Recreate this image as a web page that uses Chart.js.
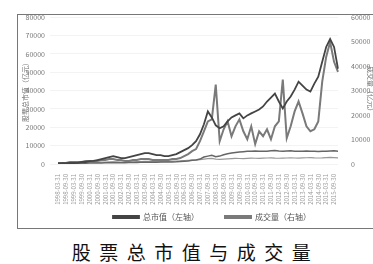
<!DOCTYPE html>
<html><head><meta charset="utf-8">
<script src="https://cdn.jsdelivr.net/npm/chart.js@4/dist/chart.umd.min.js"></script>
<style>
html,body{margin:0;padding:0;background:#fff;width:373px;height:264px;overflow:hidden;font-family:"Noto Sans CJK SC",sans-serif;}
#box{position:absolute;left:17px;top:14px;width:380px;height:213px;border-top:1px solid #777;border-left:1px solid #777;border-bottom:1px solid #777;overflow:hidden;}
#wrap{position:absolute;left:0;top:-7px;width:358px;height:223px;}
#title{position:absolute;left:4px;top:238px;width:383px;text-align:center;font-size:19px;letter-spacing:8.5px;color:#111;}
</style></head><body>
<div id="box"><div id="wrap"><canvas id="c"></canvas></div></div>
<div id="title">股票总市值与成交量</div>
<script>
const years = ["1998","1999","2000","2001","2002","2003","2004","2005","2006","2007","2008","2009","2010","2011","2012","2013","2014","2015"];
const quarterEnds = ["-03-31","-06-30","-09-30","-12-31"];
const categories = [];
years.forEach(y => quarterEnds.forEach(q => categories.push(y + q)));

const totalMarketValue = [300,400,500,540,540,600,1081,1100,1621,1650,2162,2703,3243,3784,4324,3784,3243,3243,3784,4324,4865,5405,5946,5946,5405,4865,4865,4324,4324,4865,5405,6486,7567,8648,10270,12432,16216,21621,28648,25405,21081,19459,20540,23243,25405,26486,27567,24865,26486,27567,28648,29729,31351,34054,36216,38378,34054,30270,34054,36756,40540,44864,42702,40540,39459,43783,47567,55675,63783,68107,63783,51891];
const floatMarketValue = [300,300,350,350,400,400,450,450,500,500,550,600,650,700,750,700,700,700,750,800,850,900,950,1000,1000,1000,1050,1050,1100,1150,1200,1300,1500,1700,2000,2200,2700,3800,4300,4800,4000,4300,5000,5600,6000,6300,6500,6700,6900,7000,7100,7000,6900,7000,7200,7300,7100,7000,7100,7200,7000,6900,7000,7100,7000,6900,6800,6900,7000,7100,7200,7000];
const turnover = [410,410,410,810,810,810,810,1220,1220,1220,1220,1620,1620,2030,2030,1620,1620,1220,1220,1620,1620,2030,2030,2030,1620,1620,1620,1620,1620,2030,2030,2430,3240,4050,5270,6080,9320,13380,17430,18240,32430,9320,14190,17430,11350,15400,18240,13380,10130,15400,8110,13380,11350,14190,10130,15400,17430,34460,10540,15400,21490,25540,20680,15400,13380,14190,17430,33650,43780,49860,41760,37700];
const volume = [400,400,450,500,500,550,600,600,650,700,700,750,800,850,900,850,800,800,850,900,950,1000,1050,1100,1050,1000,1000,1050,1100,1150,1200,1300,1400,1500,1600,1700,1800,2000,2200,2300,2000,1900,2000,2100,2200,2300,2250,2200,2300,2400,2350,2300,2400,2450,2500,2400,2350,2400,2450,2500,2450,2400,2500,2550,2600,2500,2450,2500,2600,2700,2600,2500];

const seriesNames = ["总市值（左轴）","流通市值（左轴）","成交量（右轴）","成交笔数（右轴）"];
const legendShown = [0,2];
const leftTicks = [0,10000,20000,30000,40000,50000,60000,70000,80000];
const rightTicks = [0,10000,20000,30000,40000,50000,60000];

const shiftLegend = {
  id:'shiftLegend',
  afterLayout(chart){ if(chart.legend){ chart.legend.left += 14; chart.legend.right += 14; } }
};

const tickFont = {family:"Noto Sans CJK SC", size:7};
new Chart(document.getElementById('c'), {
  type:'line',
  data:{
    labels:categories,
    datasets:[
      {label:seriesNames[0], data:totalMarketValue, yAxisID:'y', borderColor:'#444', borderWidth:1.8, pointRadius:0, tension:0},
      {label:seriesNames[1], data:floatMarketValue, yAxisID:'y', borderColor:'#666', borderWidth:1.5, pointRadius:0, tension:0},
      {label:seriesNames[2], data:turnover, yAxisID:'y1', borderColor:'#7a7a7a', borderWidth:2, pointRadius:0, tension:0},
      {label:seriesNames[3], data:volume, yAxisID:'y1', borderColor:'#999', borderWidth:1.2, pointRadius:0, tension:0}
    ]
  },
  plugins:[shiftLegend],
  options:{
    responsive:true, maintainAspectRatio:false, animation:false,
    layout:{padding:{left:2,right:0,top:0,bottom:0}},
    plugins:{
      legend:{position:'bottom', labels:{font:{family:"Noto Sans CJK SC", size:8}, color:'#555', boxWidth:26, boxHeight:2, padding:6,
        generateLabels:(chart)=>{
          const items = Chart.defaults.plugins.legend.labels.generateLabels(chart).filter(it=>legendShown.includes(it.datasetIndex));
          items[0].text = items[0].text + '\u3000\u3000\u3000';
          return items;
        }}},
      tooltip:{enabled:false}
    },
    scales:{
      x:{grid:{display:false}, border:{display:false},
         afterFit:s=>{s.height=43;},
         ticks:{font:{family:"Noto Sans CJK SC", size:6}, color:'#999', autoSkip:false, maxRotation:90, minRotation:90, padding:2,
           callback:function(v,i){return i%2===0?categories[i]:'';}}},
      y:{position:'left', min:0, max:80000, afterBuildTicks:s=>{s.ticks=leftTicks.map(v=>({value:v}));},
         afterFit:s=>{s.width=38;},
         grid:{color:'#f3f3f3'}, border:{display:false},
         ticks:{font:tickFont, color:'#777', padding:5, callback:v=>String(v)},
         title:{display:true, text:'股票总市值（亿元）', font:{family:"Noto Sans CJK SC", size:7}, color:'#777', padding:1}},
      y1:{position:'right', min:0, max:60000, afterBuildTicks:s=>{s.ticks=rightTicks.map(v=>({value:v}));},
         afterFit:s=>{s.width=38;},
         grid:{display:false}, border:{display:false},
         ticks:{font:tickFont, color:'#777', padding:5, callback:v=>String(v)},
         title:{display:true, text:'成交量（亿元）', font:{family:"Noto Sans CJK SC", size:7}, color:'#777', padding:1}}
    }
  }
});
</script>
</body></html>
